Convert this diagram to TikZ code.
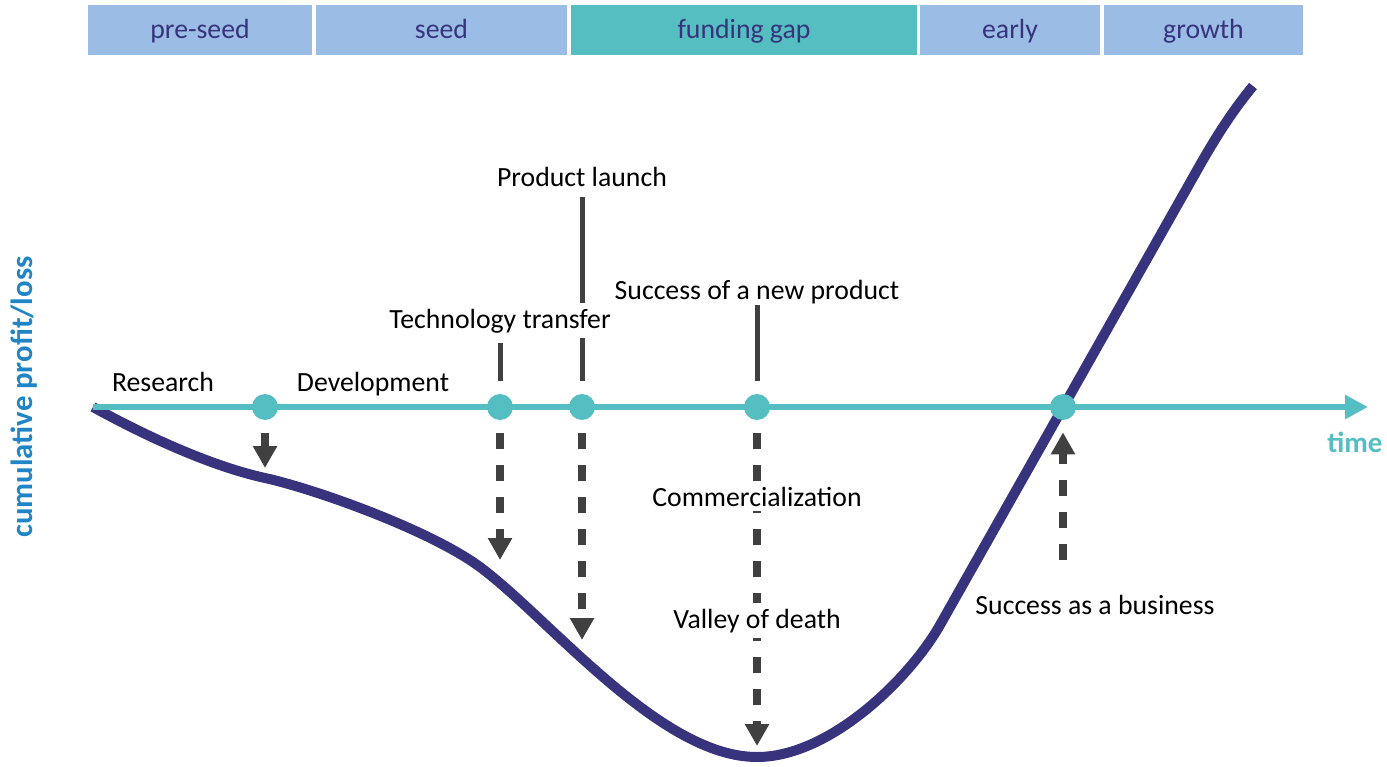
\documentclass[tikz,border=0pt]{standalone}
\usepackage{fontspec}
\setmainfont{Carlito}
\usetikzlibrary{arrows.meta}

\definecolor{phaseblue}{HTML}{9BBDE5}
\definecolor{gapteal}{HTML}{55BEC1}
\definecolor{navyline}{HTML}{37337D}
\definecolor{axisteal}{HTML}{55BEC2}
\definecolor{darkgrey}{HTML}{404040}
\definecolor{valueblue}{HTML}{1F85C6}

\pgfdeclarelayer{background}
\pgfsetlayers{background,main}

\begin{document}
\begin{tikzpicture}[x=0.02cm,y=-0.02cm]
\newcommand{\mylabelfont}{\fontsize{15.8}{19}\selectfont}
\newcommand{\myaxisfont}{\fontsize{17.5}{21}\selectfont\bfseries}
\tikzset{
  phase/.style={minimum height=1cm, inner sep=0pt, text=navyline, text height=12.5pt, text depth=3pt, font=\mylabelfont},
  milestone/.style={circle, fill=axisteal, minimum size=0.52cm, inner sep=0pt},
  lbl/.style={anchor=base, inner sep=3pt, font=\mylabelfont},
  tick/.style={darkgrey, line width=0.1cm, shorten >=0.26cm},
  dasharrow/.style={darkgrey, line width=0.16cm, dash pattern=on 0.32cm off 0.32cm, -{Triangle[length=0.44cm,width=0.46cm]}}
}
%Size of the picture
\useasboundingbox (0,0) rectangle (1387,767);
%Funding phases at the top
\foreach \xa/\xb/\n/\txt/\col in {88/312/preseed/pre-seed/phaseblue,
  316/567/seed/seed/phaseblue, 571/917/gap/funding gap/gapteal,
  920/1100/early/early/phaseblue, 1104/1303/growth/growth/phaseblue} {
  \node[phase, fill=\col, minimum width={(\xb-\xa)*0.02cm}] (\n) at ({(\xa+\xb)/2},30) {\txt};
}
%Time axis
\coordinate (tstart) at (93,407);
\coordinate (tend) at (1368,407);
\node[anchor=base, inner sep=0pt, text=axisteal, font=\fontsize{16.5}{20}\selectfont\bfseries] (time) at (1355,452) {time};
\node[rotate=90, inner sep=0pt, text=valueblue, font=\myaxisfont] (value) at (24,397) {cumulative profit/loss};
%Milestones on the axis
\foreach \x/\n in {265/d1, 500/d2, 582/d3, 757/d4, 1063/d5} {
  \node[milestone] (\n) at (\x,407) {};
}
%Labels
\node[lbl] (research) at (163,391) {Research};
\node[lbl] (develop) at (373,391) {Development};
\node[lbl, fill=white] (transfer) at (500,328) {Technology transfer};
\node[lbl] (launch) at (582,187) {Product launch};
\node[lbl] (newprod) at (757,299) {Success of a new product};
\node[lbl, fill=white] (commerce) at (757,506) {Commercialization};
\node[lbl, fill=white] (valley) at (757,628) {Valley of death};
\node[lbl] (business) at (1095,614) {Success as a business};
%Ends of the lines
\coordinate (t2) at (500,343);
\coordinate (t3) at (582,197);
\coordinate (t4) at (757,305);
\coordinate (a1) at (265,468);
\coordinate (a2) at (500,560);
\coordinate (a3) at (582,640);
\coordinate (a4) at (757,746);
\coordinate (a5) at (1063,560);
\begin{pgfonlayer}{background}
%The profit curve
\draw[navyline, line width=0.2cm] (tstart)
  .. controls (153,440) and (215,467) .. (265,478)
  .. controls (315,489) and (430,530) .. (480,567)
  .. controls (550,619) and (660,757) .. (757,757)
  .. controls (830,757) and (910,678) .. (940,625)
  -- (1200,165)
  .. controls (1220,130) and (1235,108) .. (1253,86);
\draw[axisteal, line width=0.12cm, -{Triangle[length=0.46cm,width=0.46cm]}] (tstart) -- (tend);
%Ticks above the milestones
\draw[tick] (t2) -- (d2.north);
\draw[tick] (t3) -- (d3.north);
\draw[tick] (t4) -- (d4.north);
%Dashed arrows
\draw[dasharrow, shorten <=0.26cm] (d1.south) -- (a1);
\draw[dasharrow, shorten <=0.26cm] (d2.south) -- (a2);
\draw[dasharrow, shorten <=0.26cm] (d3.south) -- (a3);
\draw[dasharrow, shorten <=0.26cm] (d4.south) -- (a4);
\draw[dasharrow, shorten >=0.24cm] (a5) -- (d5.south);
\end{pgfonlayer}
\end{tikzpicture}
\end{document}
